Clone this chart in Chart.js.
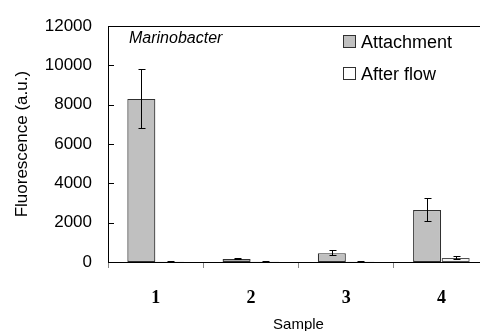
<!DOCTYPE html>
<html>
<head>
<meta charset="utf-8">
<script src="https://cdn.jsdelivr.net/npm/chart.js@4"></script>
<style>
html,body{margin:0;padding:0;background:#fff;overflow:hidden;width:480px;height:331px;}
#c{display:block;}
</style>
</head>
<body>
<canvas id="c" width="490" height="331"></canvas>
<script>
const categories = ['1', '2', '3', '4'];
const attachment = [8300, 150, 450, 2650];
const attachmentErr = [1520, 55, 170, 620];
const afterFlow = [15, 10, 10, 200];
const afterFlowErr = [0, 0, 0, 90];
const yTicks = [0, 2000, 4000, 6000, 8000, 10000, 12000];
const seriesNames = ['Attachment', 'After flow'];
const annotationText = 'Marinobacter';

const errors = [attachmentErr, afterFlowErr];

const extras = {
  id: 'extras',
  afterDatasetsDraw(chart) {
    const ctx = chart.ctx;
    const y = chart.scales.y;
    ctx.save();
    ctx.strokeStyle = '#000';
    ctx.lineWidth = 1;
    chart.data.datasets.forEach((ds, i) => {
      const meta = chart.getDatasetMeta(i);
      meta.data.forEach((el, j) => {
        const v = ds.data[j], e = errors[i][j];
        const x = Math.round(el.x) + 0.5;
        const yt = Math.round(y.getPixelForValue(v + e)) + 0.5;
        const yb = Math.round(y.getPixelForValue(Math.max(0, v - e))) - 0.5;
        ctx.beginPath();
        ctx.moveTo(x, yt); ctx.lineTo(x, yb);
        ctx.moveTo(x - 3, yt); ctx.lineTo(x + 4, yt);
        ctx.moveTo(x - 3, yb); ctx.lineTo(x + 4, yb);
        ctx.stroke();
      });
    });
    ctx.restore();
  },
  afterDraw(chart) {
    const ctx = chart.ctx;
    const a = chart.chartArea;
    const y = chart.scales.y;
    ctx.save();
    ctx.strokeStyle = '#000';
    ctx.lineWidth = 1;
    // top frame
    ctx.beginPath();
    ctx.moveTo(a.left, Math.round(a.top) + 0.5);
    ctx.lineTo(a.right, Math.round(a.top) + 0.5);
    ctx.moveTo(Math.round(a.right) - 0.5, a.top);
    ctx.lineTo(Math.round(a.right) - 0.5, a.bottom);
    ctx.stroke();
    // inward y ticks
    ctx.beginPath();
    yTicks.forEach(t => {
      const py = Math.round(y.getPixelForValue(t)) + 0.5;
      ctx.moveTo(a.left, py); ctx.lineTo(a.left + 6, py);
    });
    ctx.stroke();
    // annotation
    ctx.fillStyle = '#000';
    ctx.font = 'italic 16px "Liberation Sans", Arial, sans-serif';
    ctx.textBaseline = 'alphabetic';
    ctx.textAlign = 'left';
    ctx.fillText(annotationText, 129, 43);
    // legend
    ctx.font = '18px "Liberation Sans", Arial, sans-serif';
    chart.data.datasets.forEach((ds, i) => {
      const by = 35 + i * 32;
      ctx.fillStyle = ds.backgroundColor;
      ctx.fillRect(343.5, by + 0.5, 12, 12);
      ctx.strokeStyle = '#303030';
      ctx.strokeRect(343.5, by + 0.5, 12, 12);
      ctx.fillStyle = '#000';
      ctx.fillText(ds.label, 361, by + 12.5);
    });
    ctx.restore();
  }
};

new Chart(document.getElementById('c'), {
  type: 'bar',
  data: {
    labels: categories,
    datasets: [
      { label: seriesNames[0], data: attachment, backgroundColor: '#c0c0c0', borderColor: '#303030', borderWidth: 1.2, borderSkipped: false },
      { label: seriesNames[1], data: afterFlow, backgroundColor: '#ffffff', borderColor: '#505050', borderWidth: 1.2, borderSkipped: false }
    ]
  },
  options: {
    responsive: false,
    animation: false,
    devicePixelRatio: 1,
    categoryPercentage: 0.6,
    barPercentage: 0.98,
    layout: { padding: { top: 18, left: 0, right: 1, bottom: 0 } },
    plugins: { legend: { display: false }, tooltip: { enabled: false } },
    scales: {
      x: {
        offset: true,
        grid: { display: true, drawOnChartArea: false, tickLength: 6, color: '#888', offset: true },
        border: { color: '#000', width: 1 },
        ticks: { color: '#000', font: { family: '"Liberation Serif", "Times New Roman", serif', size: 18, weight: 'bold' }, padding: 20 },
        title: { display: true, text: 'Sample', color: '#000', font: { family: '"Liberation Sans", Arial, sans-serif', size: 15, lineHeight: 1 }, padding: { top: 0, bottom: -1.2 } },
        afterFit(s) { s.height = 69; }
      },
      y: {
        min: 0, max: 12000,
        afterBuildTicks(s) { s.ticks = yTicks.map(v => ({ value: v })); },
        grid: { display: false, drawTicks: false },
        border: { display: true, color: '#000', width: 1 },
        ticks: { color: '#000', padding: 16, callback: v => String(v), font: { family: '"Liberation Sans", Arial, sans-serif', size: 17 } },
        title: { display: true, text: 'Fluorescence (a.u.)', color: '#000', font: { family: '"Liberation Sans", Arial, sans-serif', size: 17, lineHeight: 1.2 }, padding: { top: 12.3, bottom: 0 } },
        afterFit(s) { s.width = 108; }
      }
    }
  },
  plugins: [extras]
});
</script>
</body>
</html>
